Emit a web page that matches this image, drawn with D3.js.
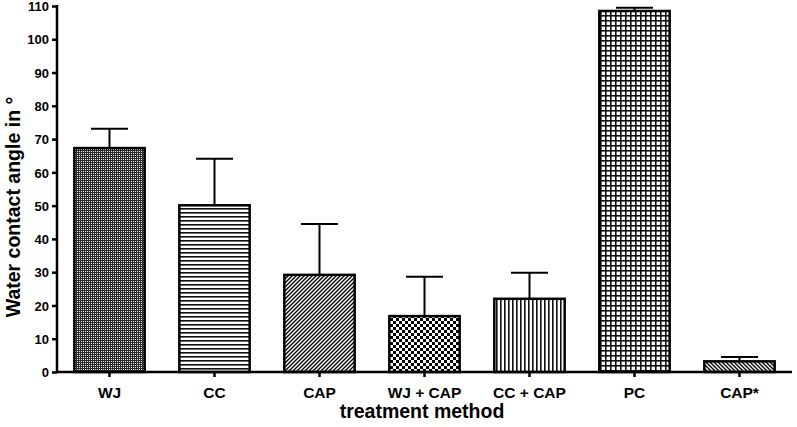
<!DOCTYPE html>
<html><head><meta charset="utf-8">
<script src="https://cdn.jsdelivr.net/npm/d3@7"></script>
<style>body{margin:0;background:#fff}svg{display:block}text{font-family:"Liberation Sans",Arial,sans-serif;font-weight:bold}</style>
</head><body>
<svg id="c" width="797" height="427"></svg>
<script>
const categories = ["WJ","CC","CAP","WJ + CAP","CC + CAP","PC","CAP*"];
const means = [67.3, 50.1, 29.2, 16.8, 22.0, 108.5, 3.2];
const errors = [5.8, 14.0, 15.3, 11.8, 7.8, 1.0, 1.3];
const patterns = ["fineDots","hLines","diagA","checker","vLines","grid","diagB"];
const yTicks = [0,10,20,30,40,50,60,70,80,90,100,110];

const svg = d3.select("#c");
const defs = svg.append("defs");
function pat(id,w,h,draw){const p=defs.append("pattern").attr("id",id).attr("patternUnits","userSpaceOnUse").attr("width",w).attr("height",h);p.append("rect").attr("width",w).attr("height",h).attr("fill","#fff");draw(p);}
pat("fineDots",2,2,p=>{p.append("rect").attr("width",2).attr("height",2).attr("fill","#2a2a2a");p.append("rect").attr("x",1).attr("y",1).attr("width",1).attr("height",1).attr("fill","#e8e8e8");});
pat("hLines",4,4,p=>p.append("rect").attr("y",0).attr("width",4).attr("height",1.6).attr("fill","#111"));
pat("vLines",4,4,p=>p.append("rect").attr("x",0).attr("width",1.6).attr("height",4).attr("fill","#111"));
pat("grid",5,5,p=>{p.append("rect").attr("width",5).attr("height",1.6).attr("fill","#111");p.append("rect").attr("width",1.6).attr("height",5).attr("fill","#111");});
pat("checker",6,6,p=>{p.append("rect").attr("width",3).attr("height",3).attr("fill","#000");p.append("rect").attr("x",3).attr("y",3).attr("width",3).attr("height",3).attr("fill","#000");});
pat("diagA",4,4,p=>p.append("path").attr("d","M-1,1 L1,-1 M0,4 L4,0 M3,5 L5,3").attr("stroke","#000").attr("stroke-width",1.4));
pat("diagB",4,4,p=>p.append("path").attr("d","M-1,3 L1,5 M0,0 L4,4 M3,-1 L5,1").attr("stroke","#000").attr("stroke-width",1.4));

const x0=57, x1=792, yTop=6, yBot=372;
const x = d3.scaleBand().domain(categories).range([x0,x1]).paddingInner(0.33).paddingOuter(0.165);
const y = d3.scaleLinear().domain([0,110]).range([yBot,yTop]);

const g = svg.append("g");
categories.forEach((c,i)=>{
  const cx = x(c)+x.bandwidth()/2;
  g.append("line").attr("x1",cx).attr("x2",cx).attr("y1",y(means[i])).attr("y2",y(means[i]+errors[i])).attr("stroke","#000").attr("stroke-width",2);
  g.append("line").attr("x1",cx-18.5).attr("x2",cx+18.5).attr("y1",y(means[i]+errors[i])).attr("y2",y(means[i]+errors[i])).attr("stroke","#000").attr("stroke-width",2);
});
g.selectAll("rect.bar").data(categories).enter().append("rect").attr("class","bar")
 .attr("x",d=>x(d)).attr("width",x.bandwidth())
 .attr("y",(d,i)=>y(means[i])).attr("height",(d,i)=>yBot-y(means[i]))
 .attr("fill",(d,i)=>`url(#${patterns[i]})`).attr("stroke","#000").attr("stroke-width",2.5);

const ya = svg.append("g").attr("transform",`translate(${x0},0)`).call(d3.axisLeft(y).tickValues(yTicks).tickSize(5).tickPadding(3));
ya.select(".domain").attr("stroke-width",2.5).attr("d",`M0,${yTop-1}V${yBot}`);
ya.selectAll(".tick line").attr("stroke-width",2.5);
ya.selectAll(".tick text").attr("font-size",13).attr("font-family","Liberation Sans, Arial, sans-serif").attr("font-weight","bold").attr("fill","#000").attr("dy","0.36em");

const xa = svg.append("g").attr("transform",`translate(0,${yBot})`).call(d3.axisBottom(x).tickSize(5).tickPadding(10));
xa.select(".domain").attr("stroke-width",2.5).attr("d",`M${x0},0H${x1}`);
xa.selectAll(".tick line").attr("stroke-width",2.5);
xa.selectAll(".tick text").attr("font-size",15.5).attr("font-family","Liberation Sans, Arial, sans-serif").attr("font-weight","bold").attr("fill","#000");

svg.append("text").attr("x",422).attr("y",418).attr("text-anchor","middle").attr("font-size",19.5).text("treatment method");
svg.append("text").attr("transform","translate(20,207) rotate(-90)").attr("text-anchor","middle").attr("font-size",19.5).text("Water contact angle in °");
</script>
</body></html>
